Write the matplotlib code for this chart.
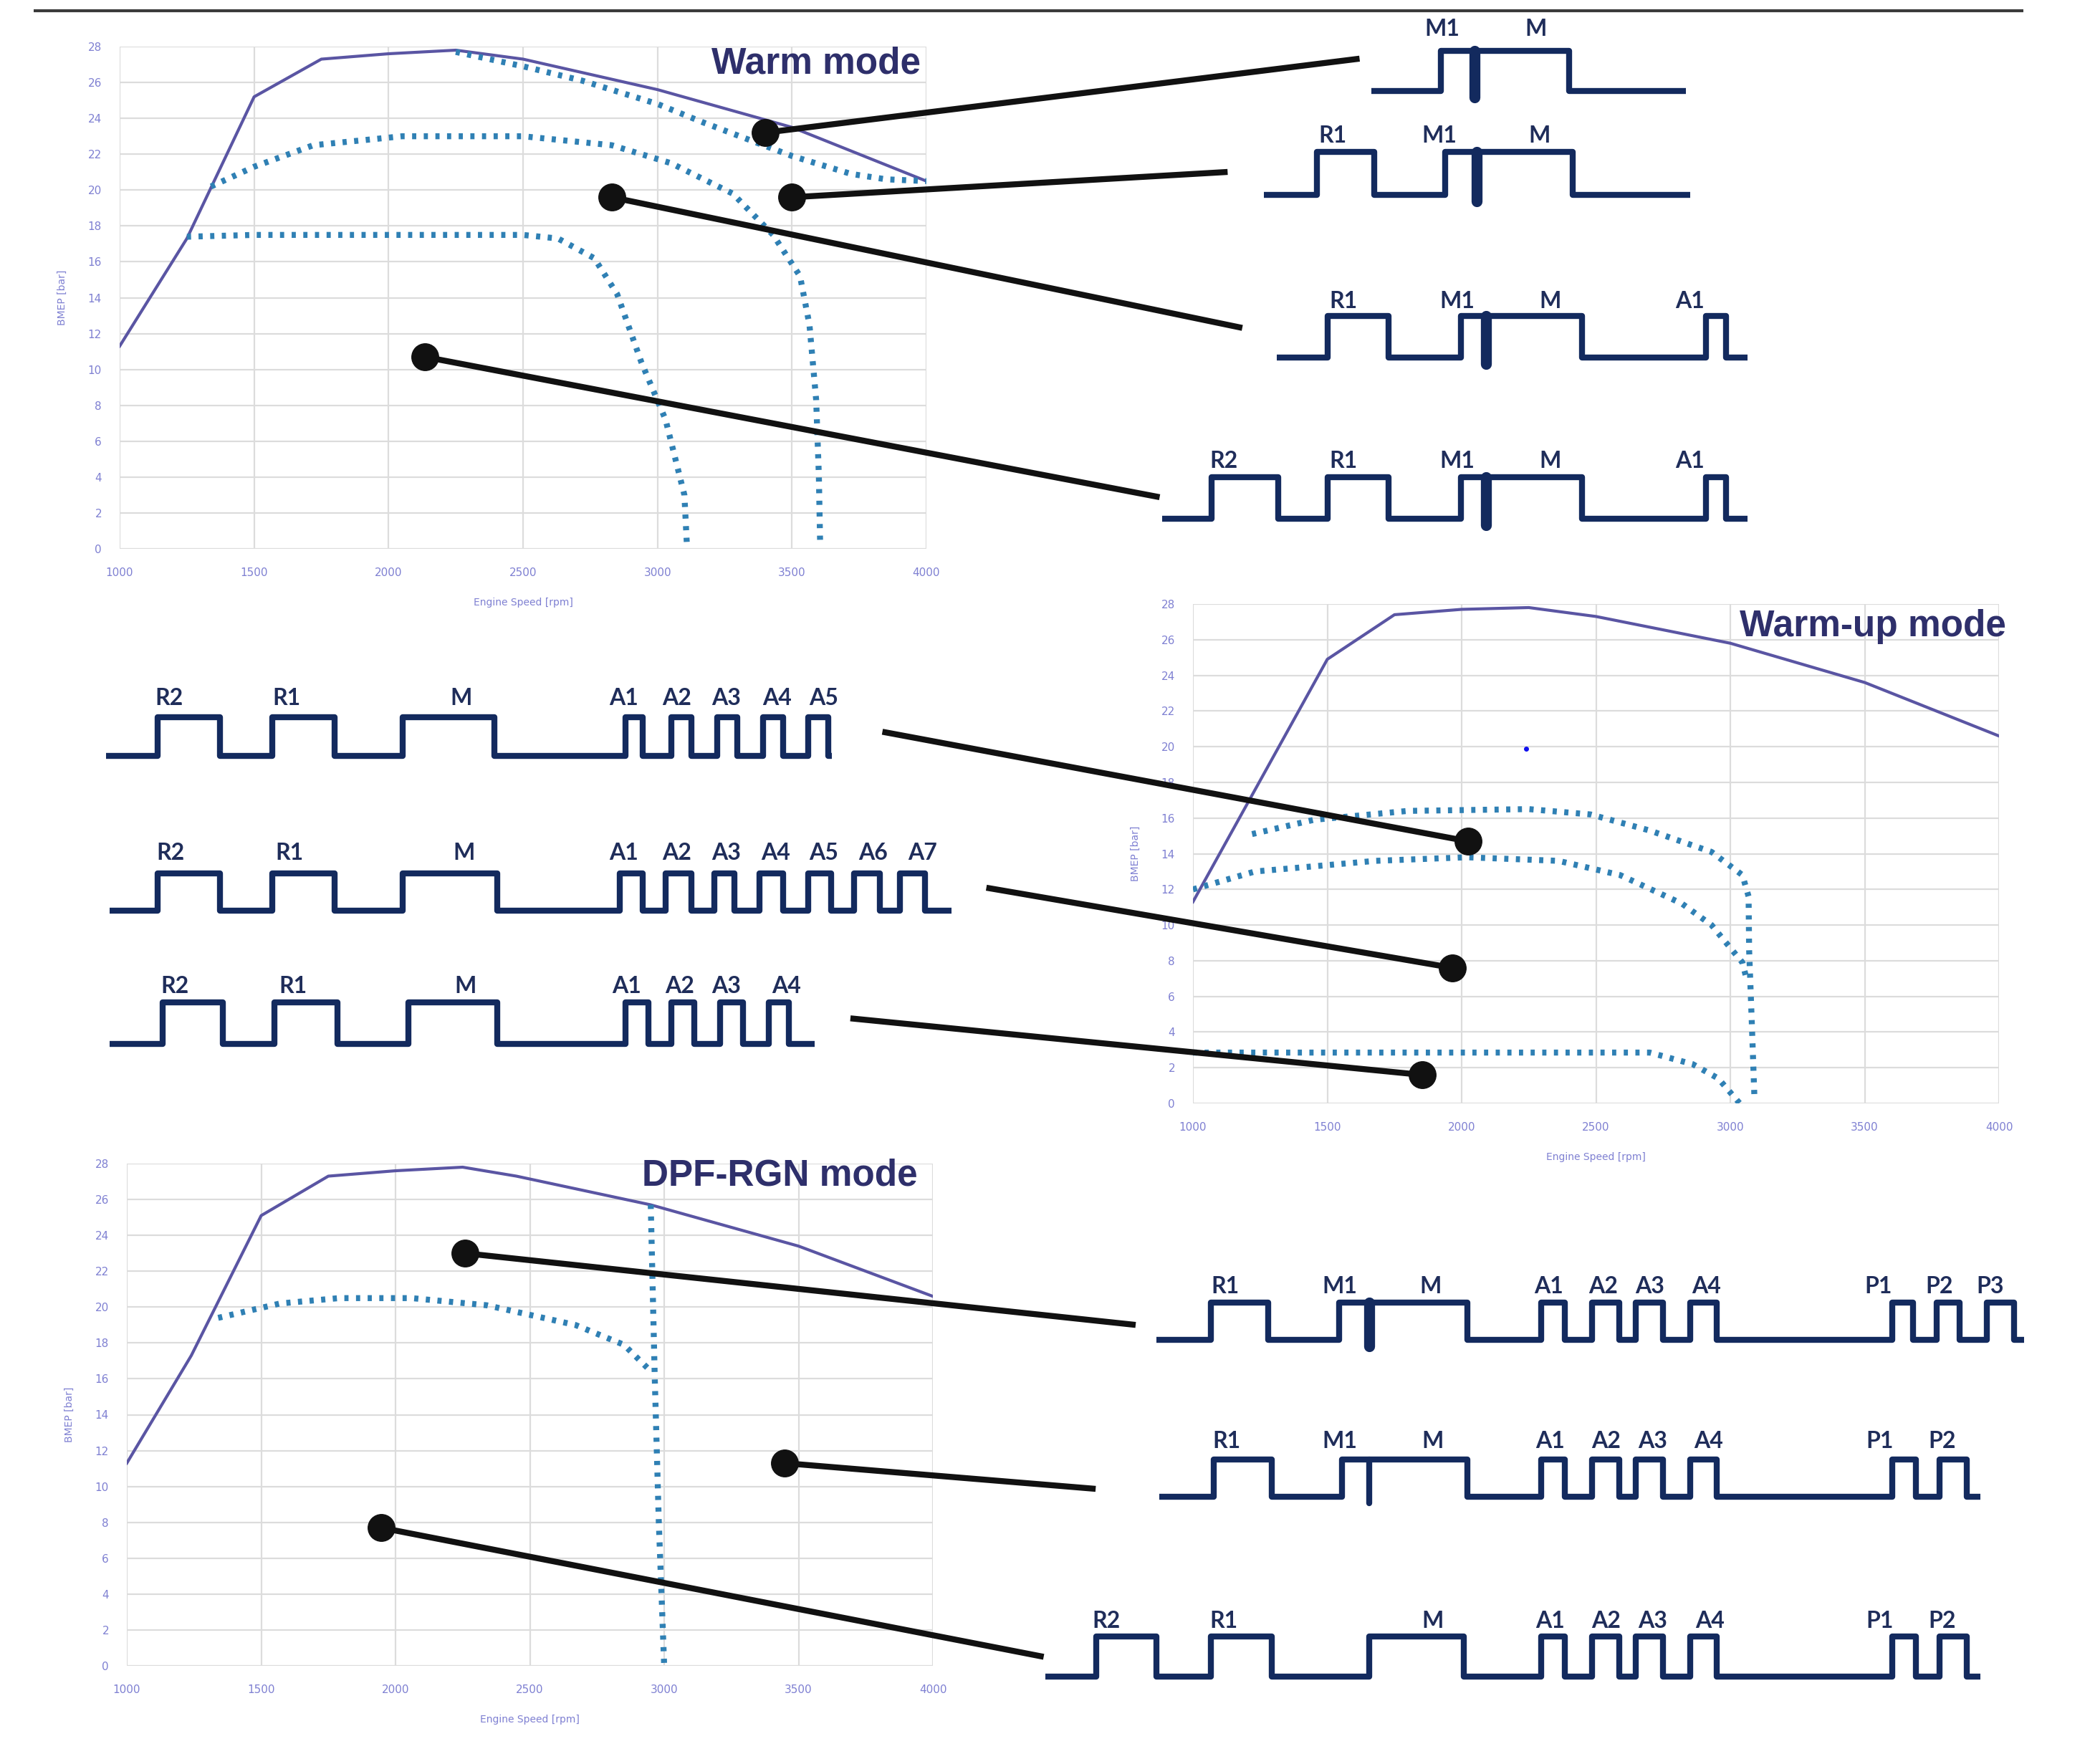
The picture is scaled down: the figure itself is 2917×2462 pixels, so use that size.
import matplotlib
matplotlib.use("Agg")
import matplotlib.pyplot as plt

# ---------------- data ----------------
rpm_ticks = [1000, 1500, 2000, 2500, 3000, 3500, 4000]
bmep_ticks = list(range(0, 29, 2))

# Warm mode
warm_full_rpm = [1000, 1250, 1500, 1750, 2000, 2250, 2500, 3000, 3500, 4000]
warm_full_bmep = [11.3, 17.3, 25.2, 27.3, 27.6, 27.8, 27.3, 25.6, 23.5, 20.5]
warm_c1_rpm = [2250, 2500, 2720, 3000, 3165, 3500, 3720, 3850, 4000]
warm_c1_bmep = [27.7, 26.9, 26.1, 24.8, 23.8, 21.9, 20.9, 20.6, 20.5]
warm_c2_rpm = [1340, 1500, 1720, 2050, 2500, 2830, 3050, 3280, 3430, 3530, 3565, 3590, 3600, 3605]
warm_c2_bmep = [20.2, 21.3, 22.5, 23.0, 23.0, 22.5, 21.5, 19.8, 17.5, 15.2, 12.5, 8.3, 4.1, 0.1]
warm_c3_rpm = [1250, 1500, 2000, 2500, 2630, 2765, 2850, 2940, 3030, 3100, 3110]
warm_c3_bmep = [17.4, 17.5, 17.5, 17.5, 17.3, 16.2, 14.2, 10.4, 7.2, 3.0, 0.0]
warm_dot_rpm = [3400, 3500, 2830, 2135]
warm_dot_bmep = [23.2, 19.6, 19.6, 10.7]

# Warm-up mode
wu_full_rpm = [1000, 1500, 1750, 2000, 2250, 2500, 3000, 3500, 4000]
wu_full_bmep = [11.3, 24.9, 27.4, 27.7, 27.8, 27.3, 25.8, 23.6, 20.6]
wu_c1_rpm = [1220, 1450, 1800, 2250, 2480, 2700, 2930, 3045, 3068, 3070, 3080, 3090]
wu_c1_bmep = [15.1, 15.9, 16.4, 16.5, 16.2, 15.3, 14.1, 12.8, 11.6, 8.6, 4.5, 0.2]
wu_c2_rpm = [1000, 1230, 1680, 2020, 2360, 2590, 2820, 2930, 3045, 3060]
wu_c2_bmep = [12.0, 13.0, 13.6, 13.8, 13.6, 12.8, 11.2, 10.0, 7.9, 7.0]
wu_c3_rpm = [1000, 1500, 2000, 2500, 2700, 2860, 2955, 3035]
wu_c3_bmep = [2.85, 2.85, 2.85, 2.85, 2.85, 2.2, 1.4, 0.0]
wu_dot_rpm = [2023, 1966, 1852]
wu_dot_bmep = [14.7, 7.6, 1.6]

# DPF-RGN mode
dpf_full_rpm = [1000, 1240, 1500, 1750, 2000, 2250, 2450, 2950, 3500, 4000]
dpf_full_bmep = [11.3, 17.3, 25.1, 27.3, 27.6, 27.8, 27.3, 25.7, 23.4, 20.6]
dpf_c1_rpm = [1340, 1570, 1790, 2060, 2340, 2670, 2850, 2945]
dpf_c1_bmep = [19.4, 20.2, 20.5, 20.5, 20.1, 19.0, 17.9, 16.5]
dpf_c2_rpm = [2950, 2965, 2980, 3000]
dpf_c2_bmep = [25.7, 16.0, 8.0, 0.0]
dpf_dot_rpm = [2259, 3448, 1946]
dpf_dot_bmep = [23.0, 11.3, 7.7]

# Injection pulse schematics (horizontal time axis in schematic units)
W1_labels = ["M1", "M"];            W1_lx = [1082, 1152]
W1_rise = [1081];                   W1_fall = [1177]
W1_span = (1029, 1265);             W1_spike = 1106
W2_labels = ["R1", "M1", "M"];      W2_lx = [1000, 1080, 1155]
W2_rise = [988, 1084];              W2_fall = [1031, 1180]
W2_span = (948, 1268);              W2_spike = 1108
W3_labels = ["R1", "M1", "M", "A1"]; W3_lx = [1008, 1093, 1163, 1268]
W3_rise = [996, 1096, 1280];        W3_fall = [1042, 1187, 1295]
W3_span = (958, 1311);              W3_spike = 1115
W4_labels = ["R2", "R1", "M1", "M", "A1"]; W4_lx = [918, 1008, 1093, 1163, 1268]
W4_rise = [909, 996, 1096, 1280];   W4_fall = [959, 1042, 1187, 1295]
W4_span = (872, 1311);              W4_spike = 1115

U1_labels = ["R2", "R1", "M", "A1", "A2", "A3", "A4", "A5"]
U1_lx = [127, 215, 346, 468, 508, 545, 583, 618]
U1_rise = [118, 204, 302, 469.4, 503.7, 538.0, 572.3, 606.5]
U1_fall = [165, 251, 371, 482.3, 518.7, 553.0, 587.3, 621.5]
U1_span = (79.5, 624)
U2_labels = ["R2", "R1", "M", "A1", "A2", "A3", "A4", "A5", "A6", "A7"]
U2_lx = [128, 217, 348, 468, 508, 545, 582, 618, 655, 692]
U2_rise = [118, 204, 302, 465.0, 499.4, 535.8, 570.0, 606.5, 640.7, 675.0]
U2_fall = [165, 251, 373, 482.3, 518.7, 551.0, 587.3, 623.6, 659.9, 693.9]
U2_span = (82, 714)
U3_labels = ["R2", "R1", "M", "A1", "A2", "A3", "A4"]
U3_lx = [131, 220, 349, 470, 510, 545, 590]
U3_rise = [122, 206, 306.5, 469.4, 503.7, 540.1, 576.6]
U3_fall = [167, 253, 373, 486.6, 520.8, 557.3, 591.6]
U3_span = (82, 611)

D1_labels = ["R1", "M1", "M", "A1", "A2", "A3", "A4", "P1", "P2", "P3"]
D1_lx = [919, 1005, 1073, 1162, 1203, 1238, 1280, 1409, 1455, 1493]
D1_rise = [908.3, 1004.5, 1156.4, 1194.4, 1227.3, 1267.8, 1419.7, 1452.7, 1490.7]
D1_fall = [951.3, 1100.7, 1174.2, 1214.7, 1247.6, 1288.1, 1435.0, 1470.4, 1511.0]
D1_span = (867.5, 1518.5);          D1_spike = 1027
D2_labels = ["R1", "M1", "M", "A1", "A2", "A3", "A4", "P1", "P2"]
D2_lx = [920, 1005, 1075, 1163, 1205, 1240, 1282, 1410, 1457]
D2_rise = [910.8, 1007, 1156.4, 1194.4, 1227.3, 1267.8, 1419.7, 1455.2]
D2_fall = [953.9, 1100.7, 1174.2, 1214.7, 1247.6, 1288.1, 1437.5, 1475.5]
D2_span = (870, 1485.6);            D2_spike = 1027
D3_labels = ["R2", "R1", "M", "A1", "A2", "A3", "A4", "P1", "P2"]
D3_lx = [830, 918, 1075, 1163, 1205, 1240, 1283, 1410, 1457]
D3_rise = [822.2, 908.3, 1027.3, 1156.4, 1194.4, 1227.3, 1267.8, 1419.7, 1455.2]
D3_fall = [867.8, 953.9, 1098.2, 1174.2, 1214.7, 1247.6, 1288.1, 1437.5, 1475.5]
D3_span = (784.2, 1485.6)

# ---------------- layout / style ----------------
W, H = 2917, 2462
S = W / 1568.0            # schematic units -> figure pixels

NAVY = "#132a5e"
FULL_C = "#5a55a3"
DOT_C = "#2f80b4"
TICK_C = "#7f80d2"
TITLE_C = "#2e2f6b"

fig = plt.figure(figsize=(W / 100, H / 100), dpi=100)
fig.patch.set_facecolor("white")


def rect(x0, y0, x1, y1):
    return [x0 / W, 1 - y1 / H, (x1 - x0) / W, (y1 - y0) / H]


def chart(r, full, dotted):
    ax = fig.add_axes(r)
    ax.set_xlim(1000, 4000)
    ax.set_ylim(0, 28)
    ax.set_xticks(rpm_ticks)
    ax.set_yticks(bmep_ticks)
    ax.grid(True, color="#dcdcdc", lw=1.6)
    ax.set_axisbelow(True)
    for sp in ax.spines.values():
        sp.set_visible(False)
    ax.tick_params(length=0, labelsize=11, colors=TICK_C, pad=19)
    ax.tick_params(axis="y", pad=18)
    ax.text(0.5, -0.107, "Engine Speed [rpm]", transform=ax.transAxes,
            ha="center", va="center", fontsize=10, color=TICK_C)
    ax.text(-0.071, 0.5, "BMEP [bar]", transform=ax.transAxes, rotation=90,
            ha="center", va="center", fontsize=10, color=TICK_C)
    ax.plot(full[0], full[1], color=FULL_C, lw=3.0, solid_joinstyle="round", zorder=3)
    for xs, ys in dotted:
        ax.plot(xs, ys, color=DOT_C, lw=6, ls=(0, (0.7, 1.25)), zorder=4)
    return ax


ax_w = chart(rect(167, 65, 1293, 766),
             (warm_full_rpm, warm_full_bmep),
             [(warm_c1_rpm, warm_c1_bmep), (warm_c2_rpm, warm_c2_bmep), (warm_c3_rpm, warm_c3_bmep)])
ax_u = chart(rect(1665, 843, 2790, 1540),
             (wu_full_rpm, wu_full_bmep),
             [(wu_c1_rpm, wu_c1_bmep), (wu_c2_rpm, wu_c2_bmep), (wu_c3_rpm, wu_c3_bmep)])
ax_u.plot([2240], [19.9], "o", color="#1010ee", ms=4, zorder=5)
ax_d = chart(rect(177, 1624, 1302, 2325),
             (dpf_full_rpm, dpf_full_bmep),
             [(dpf_c1_rpm, dpf_c1_bmep), (dpf_c2_rpm, dpf_c2_bmep)])

# overlay for schematics, titles and connectors (figure pixel space)
ov = fig.add_axes([0, 0, 1, 1], zorder=10)
ov.set_xlim(0, W)
ov.set_ylim(H, 0)
ov.axis("off")
ov.patch.set_alpha(0)

# top rule
ov.plot([25 * S, 1518 * S], [8 * S, 8 * S], color="#3a3a3a", lw=3, solid_capstyle="butt")

# titles
for txt, (tx, ty) in [("Warm mode", (612, 48)), ("Warm-up mode", (1405, 470)),
                      ("DPF-RGN mode", (585, 882))]:
    ov.text(tx * S, ty * S, txt, ha="center", va="center", fontsize=37,
            fontweight="bold", family="Liberation Sans", color=TITLE_C)


def pulses(labels, lx, rise, fall, span, base, top, ly, spike=None, spike_w=11):
    xs = [span[0]]
    ys = [base]
    for r_, f_ in zip(rise, fall):
        xs += [r_, r_, f_, f_]
        ys += [base, top, top, base]
    xs.append(span[1])
    ys.append(base)
    ov.plot([x * S for x in xs], [y * S for y in ys], color=NAVY, lw=6,
            solid_joinstyle="round", solid_capstyle="butt", zorder=5)
    if spike is not None:
        ov.plot([spike * S, spike * S], [top * S, (base + 5) * S], color=NAVY,
                lw=spike_w, solid_capstyle="round", zorder=6)
    for lab, x in zip(labels, lx):
        ov.text(x * S, ly * S, lab, ha="center", va="center", fontsize=23,
                fontweight="bold", family="Lato", color="#1f2d5a", zorder=7)


pulses(W1_labels, W1_lx, W1_rise, W1_fall, W1_span, 68, 38, 22, W1_spike)
pulses(W2_labels, W2_lx, W2_rise, W2_fall, W2_span, 146, 114, 102, W2_spike)
pulses(W3_labels, W3_lx, W3_rise, W3_fall, W3_span, 268, 237, 226, W3_spike)
pulses(W4_labels, W4_lx, W4_rise, W4_fall, W4_span, 389, 358, 346, W4_spike)
pulses(U1_labels, U1_lx, U1_rise, U1_fall, U1_span, 567, 538, 524)
pulses(U2_labels, U2_lx, U2_rise, U2_fall, U2_span, 683, 655, 640)
pulses(U3_labels, U3_lx, U3_rise, U3_fall, U3_span, 783, 752, 740)
pulses(D1_labels, D1_lx, D1_rise, D1_fall, D1_span, 1005, 977, 965, D1_spike)
pulses(D2_labels, D2_lx, D2_rise, D2_fall, D2_span, 1123, 1095, 1081, D2_spike, 6)
pulses(D3_labels, D3_lx, D3_rise, D3_fall, D3_span, 1258, 1228, 1216)

# connectors: chart operating point -> schematic
warm_ends = [(1020, 44), (921, 129), (932, 246), (870, 373)]
wu_ends = [(662, 549), (740, 666), (638, 764)]
dpf_ends = [(852, 994), (822, 1117), (783, 1243)]


def connect(ax, xs, ys, ends):
    inv = ov.transData.inverted()
    for x, y, (ex, ey) in zip(xs, ys, ends):
        px, py = inv.transform(ax.transData.transform((x, y)))
        ov.plot([px, ex * S], [py, ey * S], color="#111111", lw=6,
                solid_capstyle="butt", zorder=8)
        ov.plot([px], [py], "o", color="#111111", ms=27, zorder=9)


connect(ax_w, warm_dot_rpm, warm_dot_bmep, warm_ends)
connect(ax_u, wu_dot_rpm, wu_dot_bmep, wu_ends)
connect(ax_d, dpf_dot_rpm, dpf_dot_bmep, dpf_ends)

fig.savefig("out.png", dpi=100, facecolor="white")
